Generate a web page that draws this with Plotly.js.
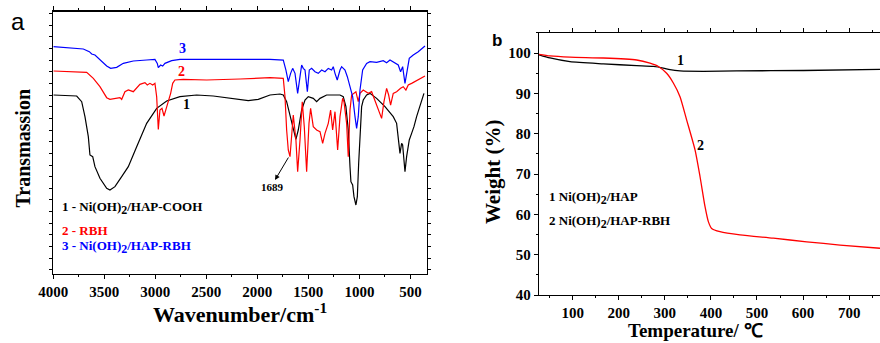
<!DOCTYPE html>
<html><head><meta charset="utf-8">
<script src="https://cdn.plot.ly/plotly-3.0.1.min.js"></script>
<style>html,body{margin:0;padding:0;background:#fff}#c{width:880px;height:343px}</style>
</head><body><div id="c"></div>
<script>
// ---- Panel a: FTIR (wavenumber cm-1, transmission a.u.) ----
const wn3 = [4000,3706,3647,3624,3592,3543,3477,3438,3379,3314,3216,3085,3004,2981,2971,2948,2928,2906,2840,2759,2497,2170,1876,1746,1720,1697,1674,1654,1631,1605,1582,1566,1550,1533,1510,1491,1468,1435,1403,1370,1337,1305,1272,1256,1239,1217,1190,1174,1141,1118,1092,1066,1043,1027,1011,994,968,929,896,831,766,733,700,651,619,596,576,553,537,511,472,423,357];
const t3  = [682,675,667,660,657,642,624,617,620,632,639,642,644,632,619,627,624,632,640,644,645,644,644,642,612,577,602,617,602,542,592,627,617,612,547,612,617,607,602,612,607,617,612,622,602,582,612,622,612,592,562,532,472,437,472,552,612,632,637,635,640,634,642,632,627,607,622,572,602,647,657,667,684];

const wn2 = [4000,3673,3608,3543,3477,3445,3347,3330,3298,3265,3216,3151,3102,3079,3053,3026,3004,2987,2971,2955,2935,2915,2896,2873,2850,2830,2808,2726,2497,2170,1876,1746,1729,1713,1697,1680,1664,1648,1622,1605,1582,1560,1540,1517,1494,1478,1452,1419,1386,1360,1337,1305,1282,1262,1239,1213,1190,1164,1151,1125,1109,1092,1076,1034,1011,994,962,913,880,847,815,782,759,733,713,694,668,635,596,570,544,521,488,455,423,357];
const t2  = [609,605,587,562,529,524,529,524,547,552,547,569,574,567,572,567,572,532,434,492,497,474,494,517,542,572,582,584,582,585,589,587,532,432,372,352,412,477,402,307,402,517,442,307,452,497,442,432,427,392,422,452,492,432,487,372,472,527,517,452,352,492,537,547,517,542,552,542,547,522,492,467,517,557,537,507,542,547,557,562,552,567,572,577,582,594];

const wn1 = [4000,3771,3722,3690,3657,3641,3614,3592,3543,3477,3445,3396,3330,3265,3183,3085,2987,2889,2759,2595,2432,2236,2089,1991,1876,1778,1746,1713,1680,1648,1622,1599,1566,1533,1501,1452,1419,1386,1321,1190,1158,1132,1109,1092,1083,1066,1053,1034,1020,1007,994,978,962,929,896,831,749,668,635,619,602,586,576,563,553,537,511,488,465,439,406,367];
const t1  = [537,534,517,472,412,357,352,322,287,257,252,262,292,322,382,452,497,519,532,537,534,527,520,524,537,540,537,517,477,432,404,432,492,522,532,527,517,527,537,537,532,502,432,322,277,267,232,207,232,332,432,502,522,537,542,527,502,472,452,412,362,392,387,342,307,352,402,422,442,472,502,542];

const SUB2 = '<sub><span style="font-size:12px">2</span></sub>';
const legendA = ["1 - Ni(OH)" + SUB2 + "/HAP-COOH","2 - RBH","3 - Ni(OH)" + SUB2 + "/HAP-RBH"];

// ---- Panel b: TGA (temperature °C, weight %) ----
const temp1 = [26.9,50.8,94.2,166.6,238.9,275.1,296.8,311.3,333,383.6,456,600.7,767];
const w1    = [99.6,98.8,97.9,97.35,96.9,96.7,96.3,95.9,95.6,95.5,95.6,95.7,96.0];
const temp2 = [26.9,50.8,94.2,166.6,238.9,267.9,286,304,318.5,333,347.5,365.6,376.4,387.3,394.5,401.7,419.8,463.2,535.6,608,680.3,767];
const w2    = [99.7,99.3,99.0,98.8,98.3,97.5,96.7,95.0,92.6,89.2,83.4,76.0,69.4,61.9,58.2,56.5,55.7,54.9,54.1,53.2,52.4,51.6];
const legendB = ["1 Ni(OH)" + SUB2 + "/HAP","2 Ni(OH)" + SUB2 + "/HAP-RBH"];

const serif = "Liberation Serif, Times New Roman, serif";
const sans = "Liberation Sans, Arial, sans-serif";

const traces = [
  {x: wn1, y: t1, mode:'lines', line:{color:'#000000', width:1.2}, xaxis:'x', yaxis:'y'},
  {x: wn2, y: t2, mode:'lines', line:{color:'#ff0000', width:1.2}, xaxis:'x', yaxis:'y'},
  {x: wn3, y: t3, mode:'lines', line:{color:'#0000ff', width:1.2}, xaxis:'x', yaxis:'y'},
  {x: temp1, y: w1, mode:'lines', line:{color:'#000000', width:1.3, shape:'spline', smoothing:0.6}, xaxis:'x2', yaxis:'y2'},
  {x: temp2, y: w2, mode:'lines', line:{color:'#ff0000', width:1.3, shape:'spline', smoothing:0.6}, xaxis:'x2', yaxis:'y2'}
];

const tickFont = {family: serif, size: 15, color:'#000'};
const B = s => '<b>' + s + '</b>';
function note(x, y, text, font, extra) {
  return Object.assign({xref:'paper', yref:'paper', x:x, y:y, text:text, showarrow:false,
    xanchor:'center', yanchor:'middle', font:font}, extra || {});
}

const layout = {
  width: 880, height: 343,
  margin: {l:0, r:0, t:0, b:0},
  paper_bgcolor:'#fff', plot_bgcolor:'#fff',
  showlegend: false,
  xaxis: {domain:[0.0606,0.4849], range:[4000,340], autorange:false, anchor:'y',
    showgrid:false, zeroline:false, showline:true, linecolor:'#000', linewidth:1.2, mirror:'ticks',
    ticks:'outside', ticklen:4, tickcolor:'#000', dtick:500, tick0:0,
    tickfont: tickFont, tickprefix:'<b>', ticksuffix:'</b>',
    minor:{dtick:250, ticklen:2, ticks:'outside', tickcolor:'#000'}},
  yaxis: {domain:[0.2012,0.9659], range:[0,787], autorange:false, anchor:'x',
    showgrid:false, zeroline:false, showline:true, linecolor:'#000', linewidth:1.2, mirror:'ticks',
    ticks:'outside', ticklen:3, tickcolor:'#000', dtick:35, tick0:12, showticklabels:false},
  xaxis2: {domain:[0.6125,1], range:[27,767], autorange:false, anchor:'y2',
    showgrid:false, zeroline:false, showline:true, linecolor:'#000', linewidth:1.2, mirror:'ticks',
    ticks:'outside', ticklen:4, tickcolor:'#000', dtick:100, tick0:0,
    tickfont: tickFont, tickprefix:'<b>', ticksuffix:'</b>',
    minor:{dtick:50, ticklen:2, ticks:'outside', tickcolor:'#000'}},
  yaxis2: {domain:[0.1399,0.9038], range:[40,105], autorange:false, anchor:'x2',
    showgrid:false, zeroline:false, showline:true, linecolor:'#000', linewidth:1.2, mirror:false,
    ticks:'outside', ticklen:4, tickcolor:'#000', dtick:10, tick0:0,
    tickfont: tickFont, tickprefix:'<b>', ticksuffix:'</b>',
    minor:{dtick:5, ticklen:2, ticks:'outside', tickcolor:'#000'}},
  annotations: [
    note(0.021, 0.936, 'a', {family:sans, size:24, color:'#000'}),
    note(0.5648, 0.883, B('b'), {family:sans, size:17, color:'#000'}),
    note(0.0256, 0.5685, B('Transmassion'), {family:serif, size:20, color:'#000'}, {textangle:-90}),
    note(0.2727, 0.0875, B('Wavenumber/cm<sup>-1</sup>'), {family:serif, size:22, color:'#000'}),
    note(0.5602, 0.4985, B('Weight (%)'), {family:serif, size:21, color:'#000'}, {textangle:-90}),
    note(0.7898, 0.035, B('Temperature/ ℃'), {family:serif, size:19, color:'#000'}),
    // legend text panel a
    note(0.0682, 0.3936, B(legendA[0]), {family:serif, size:13, color:'#000'}, {xanchor:'left'}),
    note(0.0682, 0.3294, B(legendA[1]), {family:serif, size:13, color:'#ff0000'}, {xanchor:'left'}),
    note(0.0682, 0.2799, B(legendA[2]), {family:serif, size:13, color:'#0000ff'}, {xanchor:'left'}),
    // curve labels panel a
    {xref:'x', yref:'y', x:2729, y:678, text:B('3'), showarrow:false, font:{family:serif, size:14, color:'#0000ff'}},
    {xref:'x', yref:'y', x:2739, y:609, text:B('2'), showarrow:false, font:{family:serif, size:14, color:'#ff0000'}},
    {xref:'x', yref:'y', x:2690, y:510, text:B('1'), showarrow:false, font:{family:serif, size:14, color:'#000'}},
    // 1689 marker
    {xref:'x', yref:'y', x:1827, y:282, ax:1687, ay:354, axref:'x', ayref:'y', text:'', showarrow:true, arrowhead:2, arrowsize:1, arrowwidth:1, arrowcolor:'#000'},
    {xref:'x', yref:'y', x:1850, y:262, text:B('1689'), showarrow:false, font:{family:serif, size:11, color:'#000'}},
    // panel b labels
    {xref:'x2', yref:'y2', x:334.4, y:98.1, text:B('1'), showarrow:false, font:{family:serif, size:14, color:'#000'}},
    {xref:'x2', yref:'y2', x:376.4, y:77.2, text:B('2'), showarrow:false, font:{family:serif, size:14, color:'#000'}},
    note(0.6212, 0.4227, B(legendB[0]), {family:serif, size:13, color:'#000'}, {xanchor:'left'}),
    note(0.6212, 0.3528, B(legendB[1]), {family:serif, size:13, color:'#000'}, {xanchor:'left'})
  ]
};

Plotly.newPlot('c', traces, layout, {staticPlot:true, displayModeBar:false});
</script>
</body></html>
